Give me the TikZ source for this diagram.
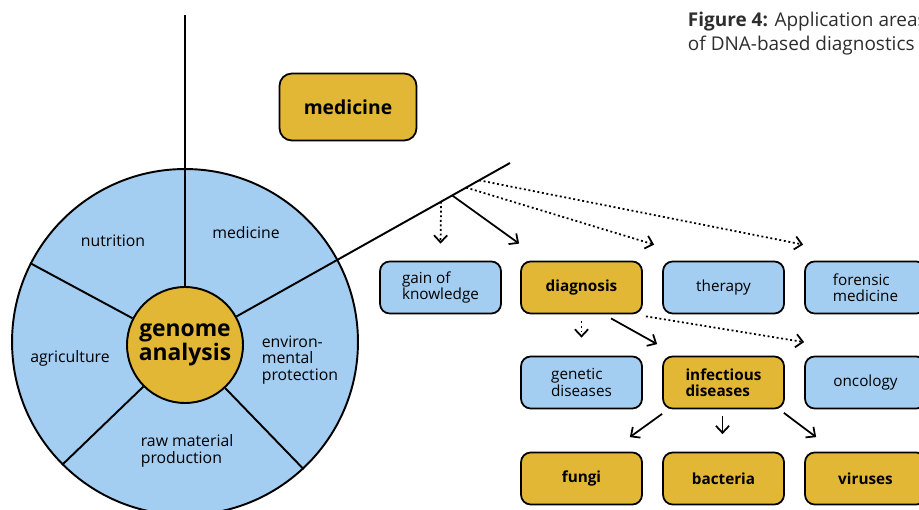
\documentclass[tikz,border=0pt]{standalone}
\usepackage{fontspec}
\setmainfont{Open Sans}
\usepackage{tikz}
\usetikzlibrary{calc,arrows.meta}
\definecolor{areablue}{RGB}{163,206,241}
\definecolor{areagold}{RGB}{226,183,53}
\definecolor{capgrey}{RGB}{45,45,45}
\tikzset{
	areabox/.style={draw=black, line width=1pt, rounded corners=5.5pt, fill=areablue, minimum width=2.42cm, minimum height=1.04cm, inner sep=2pt, align=left, font=\fontsize{8.7}{9.2}\selectfont},
	goldbox/.style={areabox, fill=areagold, font=\fontsize{8.7}{9.2}\selectfont\bfseries},
	sector/.style={font=\fontsize{9}{9.4}\selectfont, align=left},
	arr/.style={line width=1pt, -{Straight Barb[length=4pt,width=7.5pt]}},
	dotarr/.style={arr, dash pattern=on 1.1pt off 1.5pt},
}

\begin{document}
\begin{tikzpicture}[x=0.02cm, y=0.02cm, line width=1.1pt]
	\useasboundingbox (0,0) rectangle (919,510);
	\clip (0,0) rectangle (919,510);
	\node[circle, draw, fill=areablue, minimum size=6.92cm, inner sep=0pt] (wheel) at (185,168) {};
	\coordinate (top) at (185,495);
	\coordinate (fan) at (510,347);
	\node[circle, draw, fill=areagold, minimum size=2.32cm, inner sep=0pt, align=center, font=\fontsize{13}{12.5}\selectfont\bfseries] (core) at (185,165) {genome\\analysis};
	\draw (core.90) -- (top);
	\draw (core.29) -- (fan);
	\draw (core.153) -- (wheel.153);
	\draw (core.225) -- (wheel.225);
	\draw (core.313) -- (wheel.313);

	\node[sector] (nutri) at (113,269) {nutrition};
	\node[sector] (medi) at (246,277) {medicine};
	\node[sector, anchor=west] (envi) at (255,150) {environ-\\mental\\protection};
	\node[sector] (agri) at (70,152) {agriculture};
	\node[sector, anchor=west] (raw) at (134,59) {raw material\\production};

	\node[goldbox, minimum width=2.74cm, minimum height=1.34cm, rounded corners=7pt, font=\fontsize{11}{12}\selectfont\bfseries] (med) at (348,403) {medicine};

	\node[areabox] (gain) at (440.5,222.5) {gain of\\knowledge};
	\node[goldbox] (diag) at (581.5,222.5) {diagnosis};
	\node[areabox] (thera) at (723.5,222.5) {therapy};
	\node[areabox] (foren) at (865.5,222.5) {forensic\\medicine};
	\node[areabox] (genet) at (581.5,127.5) {genetic\\diseases};
	\node[goldbox] (infec) at (723.5,127.5) {infectious\\diseases};
	\node[areabox] (onco) at (865.5,127.5) {oncology};
	\node[goldbox] (fungi) at (581.5,31.5) {fungi};
	\node[goldbox] (bact) at (723.5,31.5) {bacteria};
	\node[goldbox] (viru) at (865.5,31.5) {viruses};

	\draw[dotarr] ($(core.center)!0.788!(fan)$) -- ($(gain.north)+(0,17)$);
	\draw[arr] ($(core.center)!0.822!(fan)$) -- ($(diag.north west)+(-1,17)$);
	\draw[dotarr] ($(core.center)!0.865!(fan)$) -- ($(thera.north west)+(-8,16)$);
	\draw[dotarr] ($(core.center)!0.905!(fan)$) -- ($(foren.north west)+(-1,16)$);

	\draw[dotarr] ($(diag.south)+(0,-7)$) -- ($(genet.north)+(0,18)$);
	\draw[arr] ($(diag.south)+(29.5,-4)$) -- ($(infec.north west)+(-5,11.5)$);
	\draw[dotarr] ($(diag.south east)+(3,-2)$) -- ($(onco.north west)+(0,13.5)$);

	\draw[arr] ($(infec.south west)+(0,-4.5)$) -- ($(fungi.north east)+(-13,14.5)$);
	\draw[arr] ($(infec.south)+(-1,-7)$) -- ($(bact.north)+(-1,17.5)$);
	\draw[arr] ($(infec.south east)+(-1,-3.5)$) -- ($(viru.north west)+(12,14.5)$);

	\node[anchor=base west, inner sep=0pt, align=left, text=capgrey, font=\fontsize{10.8}{14.2}\selectfont] (cap) at (687,459) {\textbf{Figure 4:} Application areas\\of DNA-based diagnostics};
\end{tikzpicture}
\end{document}
